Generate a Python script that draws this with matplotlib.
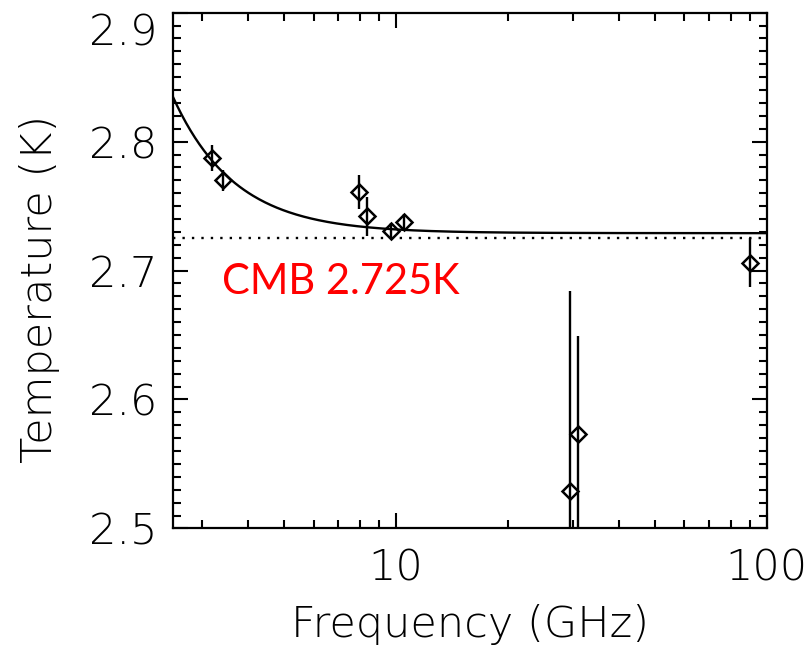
import numpy as np
import matplotlib.pyplot as plt
from matplotlib.ticker import FixedLocator, LogLocator, NullFormatter, MultipleLocator

# ARCADE-style radiometer points: frequency (GHz), temperature (K), 1-sigma error (K)
freq = [3.20, 3.41, 7.97, 8.33, 9.72, 10.49, 29.5, 31.0, 90.0]
temp = [2.787, 2.770, 2.761, 2.742, 2.731, 2.738, 2.529, 2.573, 2.706]
err = [0.010, 0.008, 0.013, 0.015, 0.006, 0.006, 0.155, 0.076, 0.019]

# fitted model: T = T0 + A * (nu / nu_ref)^beta
fit_t0 = 2.729
fit_amp = 24.1
fit_nu_ref = 0.31
fit_beta = -2.599

cmb_temp = 2.725
cmb_label = "CMB 2.725K"

y_ticks = [2.5, 2.6, 2.7, 2.8, 2.9]
y_ticklabels = ["2.5", "2.6", "2.7", "2.8", ""]
x_ticks = [10, 100]
x_ticklabels = ["10", "100"]

W, H = 811, 647
fig = plt.figure(figsize=(W / 100, H / 100), dpi=100)
left, right, top, bottom = 172.7, 766.7, 12.7, 528.4
ax = fig.add_axes([left / W, 1 - bottom / H, (right - left) / W, (bottom - top) / H])

font = dict(family="DejaVu Sans", size=31, weight="light")

nu = np.logspace(np.log10(2.5), 2, 400)
ax.plot(nu, fit_t0 + fit_amp * (nu / fit_nu_ref) ** fit_beta, color="black", lw=1.7)
ax.axhline(cmb_temp, color="black", lw=1.7, ls=(0, (1, 3)))
ax.errorbar(freq, temp, yerr=err, fmt="D", ms=8.5, mfc="none", mec="black",
            mew=1.8, ecolor="black", elinewidth=1.7, capsize=0)

ax.set_xscale("log")
ax.set_xlim(2.5, 100)
ax.set_ylim(2.5, 2.9)

ax.xaxis.set_major_locator(FixedLocator(x_ticks))
ax.set_xticklabels(x_ticklabels, fontdict=font)
ax.xaxis.set_minor_locator(LogLocator(base=10, subs=np.arange(2, 10)))
ax.xaxis.set_minor_formatter(NullFormatter())
ax.yaxis.set_major_locator(FixedLocator(y_ticks))
ax.set_yticklabels(y_ticklabels, fontdict=font)
ax.yaxis.set_minor_locator(MultipleLocator(0.01))

ax.tick_params(which="both", direction="in", top=True, right=True, width=1.5, color="black")
ax.tick_params(which="major", length=11)
ax.tick_params(which="minor", length=5.5)
ax.tick_params(axis="x", which="major", pad=14)
ax.tick_params(axis="y", which="major", pad=11)
for s in ax.spines.values():
    s.set_linewidth(1.6)

# top label sits lower so it stays inside the figure
ax.annotate("2.9", xy=(0, 2.9), xycoords=("axes fraction", "data"),
            xytext=(-15.5, -20), textcoords="offset pixels",
            ha="right", va="center", **font)

ax.set_xlabel("Frequency (GHz)", fontdict=font, labelpad=11)
ax.set_ylabel("Temperature (K)", fontdict=font)
ax.yaxis.set_label_coords(-0.19, 0.465)

ax.text(3.4, 2.682, cmb_label, color="#ff0000", fontsize=30, family="Lato",
        ha="left", va="baseline")

fig.savefig("out.png", dpi=100)
